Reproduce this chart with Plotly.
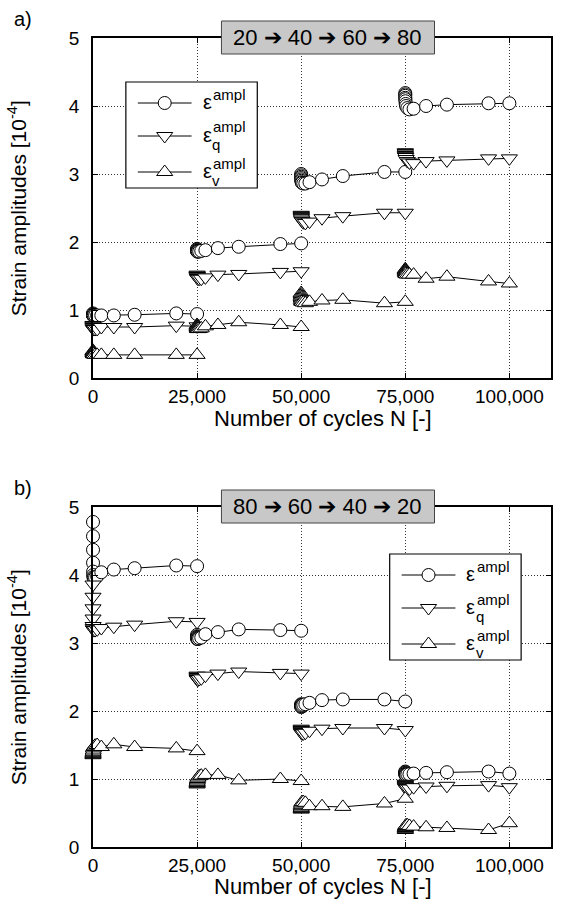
import plotly.graph_objects as go

FONT = "Liberation Sans, Arial, Helvetica, sans-serif"

# ---- cycles of the four loading stages ----------------------------------
N_S1 = [1, 2, 5, 10, 20, 50, 100, 200, 500, 1000, 2000, 5000, 10000, 20000, 25000]
N_S2 = [25001, 25002, 25005, 25010, 25020, 25050, 25100, 25200, 25500, 26000,
        27000, 30000, 35000, 45000, 50000]
N_S3 = [50001, 50002, 50005, 50010, 50020, 50050, 50100, 50200, 50500, 51000,
        52000, 55000, 60000, 70000, 75000]
N_S4 = [75001, 75002, 75005, 75010, 75020, 75050, 75100, 75200, 75500, 76000,
        77000, 80000, 85000, 95000, 100000]
STAGE_CYCLES = [N_S1, N_S2, N_S3, N_S4]

# ---- a) amplitude increasing 20 -> 40 -> 60 -> 80 ------------------------
A_EPS_S1 = [0.95, 0.94, 0.93, 0.93, 0.92, 0.92, 0.92, 0.92, 0.92, 0.92, 0.92, 0.92, 0.93, 0.95, 0.94]
A_EPS_S2 = [1.90, 1.89, 1.88, 1.87, 1.87, 1.86, 1.86, 1.86, 1.86, 1.87, 1.88, 1.91, 1.93, 1.97, 1.98]
A_EPS_S3 = [3.00, 2.98, 2.96, 2.94, 2.92, 2.90, 2.88, 2.87, 2.86, 2.86, 2.88, 2.92, 2.97, 3.03, 3.03]
A_EPS_S4 = [4.19, 4.17, 4.15, 4.12, 4.10, 4.07, 4.03, 4.00, 3.97, 3.95, 3.96, 4.00, 4.02, 4.04, 4.04]

A_EPSQ_S1 = [0.78, 0.77, 0.76, 0.75, 0.74, 0.73, 0.72, 0.72, 0.72, 0.72, 0.75, 0.75, 0.75, 0.77, 0.76]
A_EPSQ_S2 = [1.52, 1.51, 1.50, 1.50, 1.49, 1.48, 1.47, 1.46, 1.46, 1.46, 1.48, 1.52, 1.53, 1.56, 1.57]
A_EPSQ_S3 = [2.40, 2.39, 2.38, 2.37, 2.36, 2.35, 2.33, 2.31, 2.29, 2.28, 2.30, 2.35, 2.38, 2.43, 2.43]
A_EPSQ_S4 = [3.32, 3.31, 3.30, 3.28, 3.27, 3.26, 3.25, 3.22, 3.19, 3.17, 3.16, 3.19, 3.20, 3.23, 3.23]

A_EPSV_S1 = [0.40, 0.39, 0.38, 0.37, 0.36, 0.36, 0.35, 0.35, 0.34, 0.34, 0.34, 0.34, 0.34, 0.34, 0.34]
A_EPSV_S2 = [0.78, 0.77, 0.76, 0.75, 0.74, 0.73, 0.72, 0.72, 0.72, 0.73, 0.76, 0.78, 0.82, 0.78, 0.75]
A_EPSV_S3 = [1.25, 1.23, 1.21, 1.19, 1.17, 1.15, 1.13, 1.12, 1.11, 1.10, 1.12, 1.14, 1.15, 1.10, 1.12]
A_EPSV_S4 = [1.60, 1.59, 1.58, 1.57, 1.56, 1.55, 1.54, 1.53, 1.52, 1.52, 1.52, 1.46, 1.49, 1.42, 1.39]

# ---- b) amplitude decreasing 80 -> 60 -> 40 -> 20 ------------------------
B_EPS_S1 = [4.78, 4.57, 4.37, 4.18, 4.05, 4.00, 3.97, 3.96, 3.96, 3.98, 4.04, 4.08, 4.10, 4.14, 4.13]
B_EPS_S2 = [3.12, 3.10, 3.09, 3.08, 3.07, 3.06, 3.06, 3.06, 3.07, 3.08, 3.13, 3.16, 3.20, 3.19, 3.18]
B_EPS_S3 = [2.10, 2.09, 2.08, 2.07, 2.06, 2.06, 2.07, 2.08, 2.09, 2.10, 2.12, 2.16, 2.17, 2.17, 2.14]
B_EPS_S4 = [1.11, 1.10, 1.09, 1.08, 1.07, 1.06, 1.06, 1.06, 1.07, 1.07, 1.08, 1.09, 1.10, 1.11, 1.08]

B_EPSQ_S1 = [3.86, 3.68, 3.51, 3.36, 3.25, 3.22, 3.20, 3.19, 3.19, 3.20, 3.22, 3.24, 3.27, 3.32, 3.31]
B_EPSQ_S2 = [2.52, 2.51, 2.50, 2.49, 2.48, 2.47, 2.46, 2.46, 2.47, 2.48, 2.52, 2.55, 2.58, 2.56, 2.55]
B_EPSQ_S3 = [1.74, 1.73, 1.72, 1.71, 1.70, 1.69, 1.68, 1.67, 1.67, 1.68, 1.71, 1.74, 1.75, 1.75, 1.72]
B_EPSQ_S4 = [0.93, 0.92, 0.91, 0.90, 0.89, 0.88, 0.87, 0.86, 0.86, 0.86, 0.88, 0.89, 0.90, 0.91, 0.88]

B_EPSV_S1 = [1.35, 1.36, 1.37, 1.38, 1.40, 1.42, 1.45, 1.47, 1.49, 1.50, 1.47, 1.51, 1.47, 1.45, 1.41]
B_EPSV_S2 = [0.92, 0.93, 0.94, 0.95, 0.96, 0.98, 1.00, 1.02, 1.04, 1.05, 1.06, 1.06, 0.98, 1.00, 0.97]
B_EPSV_S3 = [0.55, 0.56, 0.57, 0.58, 0.60, 0.62, 0.64, 0.66, 0.66, 0.65, 0.60, 0.60, 0.59, 0.64, 0.71]
B_EPSV_S4 = [0.25, 0.26, 0.27, 0.28, 0.29, 0.30, 0.31, 0.32, 0.32, 0.31, 0.30, 0.29, 0.28, 0.25, 0.35]

X_TICKS = [0, 25000, 50000, 75000, 100000]
X_TICK_LABELS = ["0", "25,000", "50,000", "75,000", "100,000"]
Y_TICKS = [0, 1, 2, 3, 4, 5]
PANEL_LABELS = ["a)", "b)"]
PANEL_TITLES = ["20 \u2794 40 \u2794 60 \u2794 80", "80 \u2794 60 \u2794 40 \u2794 20"]
X_TITLE = "Number of cycles N [-]"
Y_TITLE = "Strain amplitudes [10<sup>-4</sup>]"
SUBSCRIPTS = ["", "q", "v"]

SERIES = {
    "a": [
        [A_EPS_S1, A_EPS_S2, A_EPS_S3, A_EPS_S4],
        [A_EPSQ_S1, A_EPSQ_S2, A_EPSQ_S3, A_EPSQ_S4],
        [A_EPSV_S1, A_EPSV_S2, A_EPSV_S3, A_EPSV_S4],
    ],
    "b": [
        [B_EPS_S1, B_EPS_S2, B_EPS_S3, B_EPS_S4],
        [B_EPSQ_S1, B_EPSQ_S2, B_EPSQ_S3, B_EPSQ_S4],
        [B_EPSV_S1, B_EPSV_S2, B_EPSV_S3, B_EPSV_S4],
    ],
}
SYMBOLS = ["circle", "triangle-down", "triangle-up"]
SIZES = [13, 14, 14]

# ---- page geometry (pixels) ---------------------------------------------
W, H = 562, 911
L, R, T, B = 93, 9, 38, 64
PW, PH = W - L - R, H - T - B
PANEL_H = 340
PANEL_TOP = [T, T + PH - PANEL_H]   # pixel y of the top edge of each panel


def px(x):
    return (x - L) / PW


def py(y):
    return (H - B - y) / PH


fig = go.Figure()

axis_names = [("x", "y"), ("x2", "y2")]
for k, key in enumerate(["a", "b"]):
    xa, ya = axis_names[k]
    for s, stages in enumerate(SERIES[key]):
        xs, ys = [], []
        for n_list, v_list in zip(STAGE_CYCLES, stages):
            xs += n_list + [None]
            ys += v_list + [None]
        fig.add_trace(go.Scatter(
            x=xs, y=ys, xaxis=xa, yaxis=ya, mode="lines+markers",
            line=dict(color="black", width=1),
            marker=dict(symbol=SYMBOLS[s], size=SIZES[s], color="white",
                        line=dict(color="black", width=1)),
            cliponaxis=False, showlegend=False, connectgaps=False,
        ))

axis_common = dict(
    showline=True, linecolor="black", linewidth=1.5, mirror="ticks",
    ticks="inside", ticklen=5, tickcolor="black", tickwidth=1,
    showgrid=True, gridcolor="#333333", gridwidth=1, griddash="1px,2px",
    zeroline=False, tickfont=dict(family=FONT, size=19, color="black"),
)

dom_a = [py(PANEL_TOP[0] + PANEL_H), py(PANEL_TOP[0])]
dom_b = [py(PANEL_TOP[1] + PANEL_H), py(PANEL_TOP[1])]

fig.update_layout(
    width=W, height=H,
    margin=dict(l=L, r=R, t=T, b=B, pad=0),
    paper_bgcolor="white", plot_bgcolor="rgba(0,0,0,0)",
    showlegend=False,
    font=dict(family=FONT, color="black"),
    xaxis=dict(domain=[0, 1], anchor="y", range=[0, 110000], tickvals=X_TICKS,
               ticktext=X_TICK_LABELS, ticklabelstandoff=0, **axis_common),
    yaxis=dict(domain=dom_a, anchor="x", range=[0, 5], tickvals=Y_TICKS,
               ticklabelstandoff=8, **axis_common),
    xaxis2=dict(domain=[0, 1], anchor="y2", range=[0, 110000], tickvals=X_TICKS,
                ticktext=X_TICK_LABELS, ticklabelstandoff=0, **axis_common),
    yaxis2=dict(domain=dom_b, anchor="x2", range=[0, 5], tickvals=Y_TICKS,
                ticklabelstandoff=8, **axis_common),
    # pixel-space overlay holding the two legend boxes
    xaxis3=dict(domain=[0, 1], anchor="y3", range=[L, W - R], visible=False,
                showgrid=False, fixedrange=True),
    yaxis3=dict(domain=[0, 1], anchor="x3", range=[H - B, T], visible=False,
                showgrid=False, fixedrange=True),
)

shapes = []
annotations = []

# legend boxes: left/top pixel position
LEGEND_POS = [(126, 82), (391, 554)]
ROW_OFF = [21, 54, 90]
LEG_W, LEG_H = 132, 106

for k in range(2):
    top = PANEL_TOP[k]
    # title banner
    bx0, bx1 = 222, 436
    by0, by1 = top - 17, top + 16
    shapes.append(dict(type="rect", xref="paper", yref="paper",
                       x0=px(bx0), x1=px(bx1), y0=py(by1), y1=py(by0),
                       fillcolor="#c8c8c8", line=dict(color="#444", width=1),
                       layer="above"))
    annotations.append(dict(xref="paper", yref="paper",
                            x=px((bx0 + bx1) / 2), y=py((by0 + by1) / 2),
                            text=PANEL_TITLES[k], showarrow=False,
                            font=dict(family=FONT, size=22, color="black"),
                            xanchor="center", yanchor="middle"))
    # panel letter
    annotations.append(dict(xref="paper", yref="paper", x=px(12), y=py(top - 19),
                            text=PANEL_LABELS[k], showarrow=False,
                            font=dict(family=FONT, size=20, color="black"),
                            xanchor="left", yanchor="middle"))
    # axis titles
    annotations.append(dict(xref="paper", yref="paper", x=px(17), y=py(top + PANEL_H / 2),
                            text=Y_TITLE, showarrow=False, textangle=-90,
                            font=dict(family=FONT, size=21, color="black"),
                            xanchor="center", yanchor="middle"))
    annotations.append(dict(xref="paper", yref="paper", x=px(L + PW / 2 + 1),
                            y=py(top + PANEL_H + 40),
                            text=X_TITLE, showarrow=False,
                            font=dict(family=FONT, size=22, color="black"),
                            xanchor="center", yanchor="middle"))

    # legend
    lx, ly = LEGEND_POS[k]
    shapes.append(dict(type="rect", xref="x3", yref="y3",
                       x0=lx, x1=lx + LEG_W, y0=ly + LEG_H, y1=ly,
                       fillcolor="white", line=dict(color="black", width=1.2),
                       layer="below"))
    for s in range(3):
        ry = ly + ROW_OFF[s]
        shapes.append(dict(type="line", xref="x3", yref="y3",
                           x0=lx + 12, x1=lx + 66, y0=ry, y1=ry,
                           line=dict(color="black", width=1), layer="below"))
        fig.add_trace(go.Scatter(
            x=[lx + 39], y=[ry], xaxis="x3", yaxis="y3", mode="markers",
            marker=dict(symbol=SYMBOLS[s], size=SIZES[s], color="white",
                        line=dict(color="black", width=1)),
            showlegend=False, hoverinfo="skip",
        ))
        annotations.append(dict(xref="paper", yref="paper", x=px(lx + 75), y=py(ry - 1),
                                text="\u03b5", showarrow=False,
                                font=dict(family=FONT, size=20, color="black"),
                                xanchor="left", yanchor="middle"))
        annotations.append(dict(xref="paper", yref="paper", x=px(lx + 86), y=py(ry - 9),
                                text="ampl", showarrow=False,
                                font=dict(family=FONT, size=15, color="black"),
                                xanchor="left", yanchor="middle"))
        if SUBSCRIPTS[s]:
            annotations.append(dict(xref="paper", yref="paper", x=px(lx + 85), y=py(ry + 8),
                                    text=SUBSCRIPTS[s], showarrow=False,
                                    font=dict(family=FONT, size=15, color="black"),
                                    xanchor="left", yanchor="middle"))

fig.update_layout(shapes=shapes, annotations=annotations)

fig.write_html("out.html")
